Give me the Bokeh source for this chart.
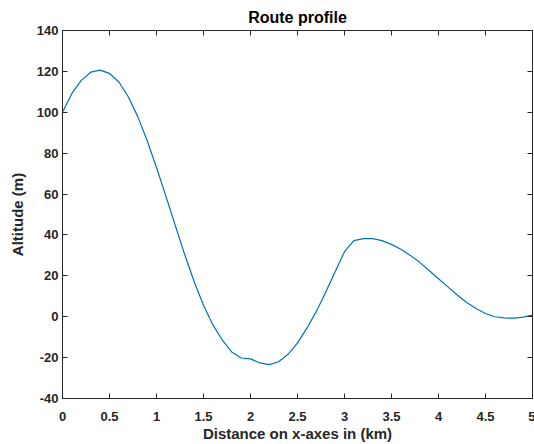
from bokeh.plotting import figure
from bokeh.models import Range1d, LinearAxis, FixedTicker, CustomJSTickFormatter
from bokeh.embed import file_html
from bokeh.resources import INLINE

# distance (km) and altitude (m)
distance = [0.0, 0.1, 0.2, 0.3, 0.4, 0.5, 0.6, 0.7, 0.8, 0.9,
            1.0, 1.1, 1.2, 1.3, 1.4, 1.5, 1.6, 1.7, 1.8, 1.9,
            2.0, 2.1, 2.2, 2.3, 2.4, 2.5, 2.6, 2.7, 2.8, 2.9,
            3.0, 3.1, 3.2, 3.3, 3.4, 3.5, 3.6, 3.7, 3.8, 3.9,
            4.0, 4.1, 4.2, 4.3, 4.4, 4.5, 4.6, 4.7, 4.8, 4.9, 5.0]
altitude = [100.0, 109.2, 115.6, 119.6, 120.6, 119.0, 114.8, 107.6, 98.0, 86.2,
            73.0, 59.0, 44.6, 30.4, 17.2, 5.6, -4.0, -11.4, -17.2, -20.2,
            -20.6, -22.6, -23.4, -22.0, -18.4, -12.8, -5.6, 2.6, 12.0, 22.0,
            31.8, 37.2, 38.2, 38.2, 37.2, 35.4, 33.0, 30.0, 26.6, 22.6,
            18.6, 14.6, 10.6, 7.0, 4.0, 1.6, 0.0, -0.6, -0.7, -0.2, 0.8]

x_ticks = [0, 0.5, 1, 1.5, 2, 2.5, 3, 3.5, 4, 4.5, 5]
x_tick_labels = ["0", "0.5", "1", "1.5", "2", "2.5", "3", "3.5", "4", "4.5", "5"]
y_ticks = [-40, -20, 0, 20, 40, 60, 80, 100, 120, 140]
y_tick_labels = ["-40", "-20", "0", "20", "40", "60", "80", "100", "120", "140"]

title_text = "Route profile"
x_label = "Distance on x-axes in (km)"
y_label = "Altitude (m)"

AX = "#262626"
FONT = "Liberation Sans"

p = figure(width=535, height=444,
           output_backend="svg", toolbar_location=None,
           x_range=Range1d(0, 5), y_range=Range1d(-40, 140),
           min_border_left=62, min_border_right=3, min_border_top=30, min_border_bottom=46,
           title=title_text)

p.line(distance, altitude, line_color="#0072BD", line_width=1.2)

p.grid.visible = False
p.outline_line_color = AX
p.outline_line_width = 1
p.background_fill_color = "white"
p.border_fill_color = "white"

p.title.align = "center"
p.title.text_font = FONT
p.title.text_font_size = "16px"
p.title.text_font_style = "bold"
p.title.text_color = "black"
p.title.standoff = 9

for ax, ticks, labels in ((p.xaxis[0], x_ticks, x_tick_labels), (p.yaxis[0], y_ticks, y_tick_labels)):
    ax.ticker = FixedTicker(ticks=ticks)
    ax.major_label_overrides = {t: l for t, l in zip(ticks, labels)}
    ax.major_label_text_font = FONT
    ax.major_label_text_font_size = "13px"
    ax.major_label_text_font_style = "bold"
    ax.major_label_text_color = AX
    ax.axis_label_text_font = FONT
    ax.axis_label_text_font_size = "15px"
    ax.axis_label_text_font_style = "bold"
    ax.axis_label_text_color = AX
    ax.axis_line_color = AX
    ax.major_tick_line_color = AX
    ax.major_tick_in = 5
    ax.major_tick_out = 0
    ax.minor_tick_line_color = None

p.xaxis[0].axis_label = x_label
p.yaxis[0].axis_label = y_label
p.xaxis[0].major_label_standoff = 13
p.xaxis[0].axis_label_standoff = 1
p.yaxis[0].major_label_standoff = 4
p.yaxis[0].axis_label_standoff = 8

blank = CustomJSTickFormatter(code="return ''")
top = LinearAxis(ticker=FixedTicker(ticks=x_ticks), formatter=blank)
right = LinearAxis(ticker=FixedTicker(ticks=y_ticks), formatter=blank)
for ax in (top, right):
    ax.major_label_text_font_size = "1px"
    ax.major_label_standoff = 0
    ax.axis_line_color = AX
    ax.major_tick_line_color = AX
    ax.major_tick_in = 5
    ax.major_tick_out = 0
    ax.minor_tick_line_color = None
p.add_layout(top, "above")
p.add_layout(right, "right")

open("out.html", "w").write(file_html(p, INLINE))
